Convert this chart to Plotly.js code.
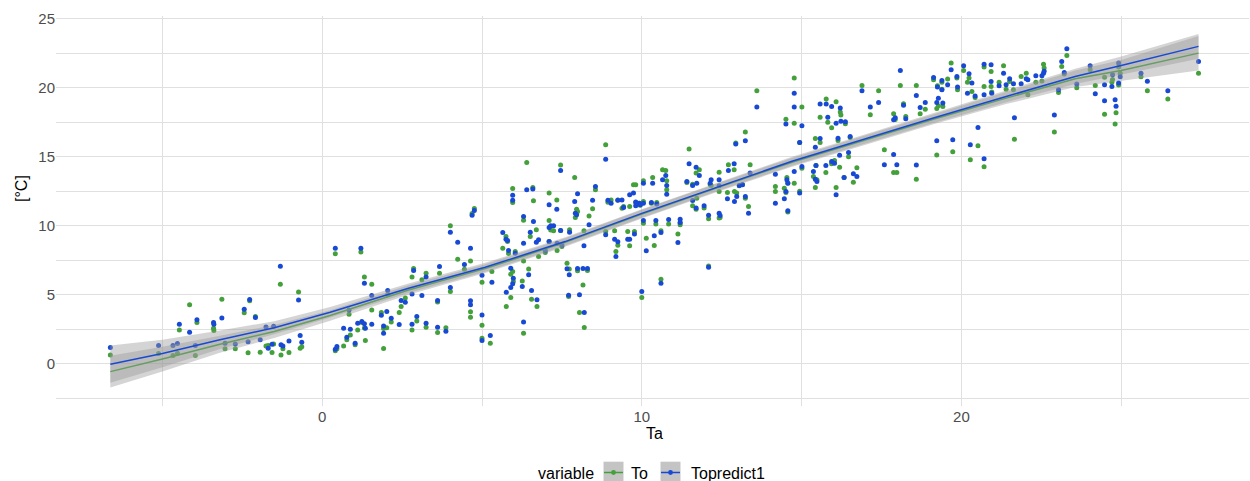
<!DOCTYPE html>
<html><head><meta charset="utf-8">
<script src="https://cdn.plot.ly/plotly-3.0.1.min.js"></script>
<style>html,body{margin:0;padding:0;background:#fff}#chart{width:1250px;height:481px}</style>
</head><body><div id="chart"></div>
<script>
// ---- observations: Ta, To (measured), Topredict1 (predicted) ----
const Ta = [
-6.63,-5.12,-4.67,-4.53,-4.47,-4.15,-3.97,-3.92,-3.40,-3.39,-3.14,-3.04,-2.72,-2.44,-2.32,-2.27,-2.09,-1.94,-1.76,-1.69,-1.57,-1.52,-1.31,-1.29,-1.23,-1.04,-0.74,-0.69,-0.64,
0.41,0.41,0.46,0.67,0.77,0.84,0.88,1.03,1.11,1.21,1.24,1.32,1.32,1.35,1.55,1.55,1.85,1.92,1.92,2.02,2.05,2.16,2.41,2.47,2.60,2.81,2.86,2.81,2.96,3.12,3.25,3.25,3.61,3.61,3.67,3.87,4.01,4.01,4.24,4.45,4.64,4.64,4.64,4.69,4.76,5.00,5.00,5.00,
5.26,5.31,5.65,5.75,5.80,5.76,5.83,5.90,5.96,5.90,5.98,5.96,5.96,6.04,6.30,6.30,6.26,6.30,6.40,6.46,6.51,6.55,6.59,6.61,6.70,6.77,6.72,6.98,7.10,7.10,7.15,7.24,7.10,7.34,7.35,7.46,7.46,7.50,7.66,7.73,7.71,7.74,7.90,7.92,7.96,7.99,7.99,8.05,8.16,8.20,8.19,8.30,8.35,8.46,8.55,8.87,8.87,8.94,9.04,9.15,9.19,9.25,9.25,9.38,9.43,9.56,9.62,9.62,9.74,9.81,9.77,9.81,9.92,9.95,10.00,
10.05,10.05,10.05,10.14,10.34,10.30,10.47,10.44,10.39,10.60,10.60,10.65,10.75,10.78,10.78,10.84,11.13,11.20,11.20,11.41,11.48,11.59,11.59,11.70,11.72,11.80,11.70,11.95,12.09,12.09,12.17,12.14,12.42,12.42,12.42,12.45,12.68,12.71,12.89,12.94,12.97,13.05,13.15,12.90,13.24,13.24,13.34,13.39,13.60,14.18,14.18,14.46,14.51,14.54,14.57,14.51,14.57,14.77,14.77,14.77,
14.94,15.01,14.94,15.01,15.37,15.43,15.43,15.48,15.45,15.58,15.58,15.76,15.77,15.82,15.94,15.94,16.03,16.08,16.08,16.14,16.19,16.21,16.23,16.33,16.37,16.47,16.52,16.62,16.73,16.89,17.15,17.41,17.59,17.88,17.98,17.88,17.93,18.09,18.19,18.26,18.59,18.59,18.71,18.87,19.13,
19.25,19.39,19.23,19.28,19.42,19.23,19.39,19.57,19.68,19.73,19.86,19.88,20.07,20.19,20.33,20.24,20.28,20.52,20.43,20.71,20.71,20.71,20.93,20.93,20.95,21.18,21.32,21.40,21.51,21.63,21.66,21.87,22.03,22.08,22.33,22.52,22.57,22.59,22.91,23.14,23.22,23.30,23.04,
23.61,24.03,24.19,24.48,24.48,24.71,24.73,24.97,24.92,24.81,24.84,24.92,25.62,25.82,26.46,27.42];
const To = [
0.65,0.75,0.60,0.77,2.45,4.28,0.60,2.99,2.58,2.41,4.69,1.09,1.09,3.70,0.80,4.57,3.43,0.85,1.30,1.33,0.82,1.45,5.77,0.65,1.10,0.82,5.20,1.13,1.25,
7.97,0.95,1.10,1.30,1.75,3.60,2.10,1.38,2.46,8.10,3.00,6.30,2.60,1.69,5.77,3.91,3.72,2.56,1.11,2.61,5.00,3.04,3.72,4.15,4.78,6.30,6.91,2.46,3.10,6.09,6.57,2.66,4.49,2.27,6.57,2.61,10.00,5.24,7.58,6.86,7.46,3.77,3.38,10.90,11.26,5.92,2.80,1.86,
1.50,6.69,8.38,9.23,8.86,4.15,8.00,6.50,6.69,4.81,5.97,12.71,11.69,8.14,7.46,2.22,6.01,10.40,14.59,6.88,9.23,4.69,12.78,11.81,9.71,7.78,4.15,8.07,12.37,10.39,9.70,9.64,8.86,11.88,8.21,14.40,9.66,8.50,7.29,6.88,4.88,9.71,13.50,10.60,11.21,11.04,6.74,3.72,5.72,2.63,9.64,6.76,10.72,11.23,12.61,15.87,9.59,11.70,11.88,9.64,8.14,8.60,11.88,11.28,11.40,9.59,8.55,11.40,12.97,12.97,9.59,11.69,11.64,11.50,4.81,
13.26,11.76,10.19,9.11,13.50,11.64,11.69,10.14,8.57,9.64,6.14,14.06,14.01,13.26,12.61,10.14,9.40,10.07,10.20,13.14,15.56,13.02,11.45,13.82,12.00,14.06,11.20,11.30,10.51,7.10,12.92,13.00,13.89,12.49,10.56,10.60,12.42,14.42,14.06,16.00,12.37,12.90,13.00,12.49,16.79,12.00,11.40,14.42,19.78,12.85,12.49,12.73,17.73,13.50,13.10,12.42,11.00,17.44,20.70,13.09,
12.50,18.60,16.04,14.18,13.57,16.33,12.78,13.33,14.37,17.87,16.04,13.86,19.18,17.50,17.10,14.50,14.73,12.78,18.99,16.18,14.25,18.24,18.02,13.50,17.40,15.00,16.40,13.16,14.20,20.17,18.04,19.78,15.51,13.86,13.86,18.12,17.70,20.17,18.84,17.92,20.17,13.38,18.12,18.45,20.58,
20.14,19.90,18.50,18.70,18.65,15.14,20.40,20.63,21.79,15.36,20.70,19.86,21.26,20.41,19.73,20.70,14.78,15.80,19.30,21.50,20.10,14.28,21.18,20.10,19.70,20.41,21.59,19.90,20.46,19.86,16.28,20.82,21.06,19.49,20.41,20.50,21.71,21.43,16.79,21.55,21.00,22.34,19.66,
20.00,21.30,20.17,20.77,18.09,20.41,20.60,21.06,21.50,17.37,18.20,20.20,20.80,19.78,19.18,21.06];
const Topredict1 = [
1.18,1.33,1.33,1.47,2.87,2.29,1.33,3.19,2.99,2.87,3.33,1.50,1.45,3.96,1.60,4.66,3.36,1.74,2.68,1.14,1.43,2.73,7.08,1.38,1.30,1.66,4.62,2.05,1.57,
8.38,1.06,1.26,2.59,1.93,3.90,2.51,1.50,2.95,8.38,3.07,5.85,2.90,2.58,4.95,2.87,3.53,2.75,2.22,3.79,5.31,3.31,2.85,4.59,4.47,5.07,6.76,2.87,3.43,4.95,6.30,2.95,4.59,2.66,7.05,2.37,9.54,5.53,8.82,7.20,8.38,4.57,4.28,10.77,11.11,6.43,3.55,1.69,
2.05,5.92,9.52,9.03,8.94,5.19,8.21,6.93,5.80,5.53,6.20,12.22,11.86,8.02,8.74,3.04,5.60,10.68,12.61,6.45,9.54,5.31,12.66,10.31,8.82,8.99,4.64,8.21,11.52,9.88,10.00,10.00,8.86,11.21,8.74,14.01,9.66,8.62,6.90,6.45,4.98,9.54,11.76,10.92,10.80,12.32,6.91,5.00,6.91,3.72,8.55,6.91,10.07,11.86,12.85,14.83,9.35,11.86,11.64,9.03,7.78,8.84,11.86,11.88,11.33,9.03,9.03,12.25,12.37,11.72,9.40,11.45,11.64,11.52,5.24,
13.09,11.64,10.39,8.19,13.09,11.69,11.59,10.39,9.28,9.52,5.85,13.33,13.65,12.92,12.29,10.46,8.79,10.48,10.24,13.21,14.49,12.92,11.84,14.25,13.09,13.65,11.30,11.45,10.77,7.00,13.33,13.09,13.33,12.90,10.92,10.75,11.96,14.01,14.49,15.92,12.13,12.92,12.97,11.76,16.16,12.13,10.92,13.82,18.60,13.74,11.64,11.96,17.37,13.33,13.09,12.49,11.09,18.60,19.61,13.94,
12.37,17.25,16.04,14.30,13.94,15.70,13.38,13.21,14.37,18.82,16.33,14.37,18.82,17.87,18.65,14.66,14.54,12.25,17.44,16.35,15.12,18.53,17.58,13.50,17.54,15.31,16.47,13.77,13.57,19.78,18.60,18.94,14.42,15.17,14.42,17.68,17.83,21.26,18.74,17.75,19.44,14.40,18.57,18.94,20.75,
20.05,19.86,18.94,19.25,18.90,16.16,20.53,20.22,21.30,16.23,20.82,20.05,21.59,19.61,20.34,21.01,15.87,17.13,19.40,21.71,19.49,14.86,21.67,20.46,19.61,20.14,21.06,20.22,20.65,20.29,17.83,20.29,20.65,20.58,20.87,20.87,21.06,21.20,18.02,21.91,21.11,22.83,19.86,
20.27,21.59,19.57,20.22,19.06,20.10,20.94,20.80,21.79,19.13,18.67,20.34,21.06,20.48,19.78,21.91];

// ---- smoothed fits and ribbon half-widths ----
const smoothTa = [-6.63,-5.0,-3.2,-1.5,0.25,2.7,5.1,7.6,10.0,12.4,14.7,16.9,19.1,21.4,23.56,25.0,27.42];
const fitTo    = [-0.56,0.35,1.42,2.35,3.50,5.35,6.90,8.80,10.85,12.80,14.60,16.15,17.70,19.25,20.65,21.26,22.51];
const fitTp    = [-0.02,0.75,1.75,2.62,3.74,5.48,7.00,8.86,10.90,12.85,14.68,16.23,17.80,19.37,20.82,21.62,23.00];
const halfTo   = [1.15,0.90,0.62,0.47,0.38,0.34,0.32,0.31,0.31,0.31,0.32,0.34,0.36,0.43,0.60,0.75,1.25];
const halfTp   = [1.35,1.00,0.67,0.47,0.38,0.34,0.32,0.31,0.31,0.31,0.32,0.34,0.36,0.41,0.55,0.65,0.90];

const seriesNames = ['To','Topredict1'];
const legendTitle = 'variable';
const xTitle = 'Ta';
const yTitle = '[°C]';

const GREEN = '#43a03a', BLUE = '#1849d4';
const FONT = 'Liberation Sans, Arial, sans-serif';

function ribbon(fit, half) {
  const up = fit.map((v,i)=>v+half[i]);
  const lo = fit.map((v,i)=>v-half[i]);
  return {
    x: smoothTa.concat(smoothTa.slice().reverse()),
    y: up.concat(lo.slice().reverse()),
    type:'scatter', mode:'lines', fill:'toself',
    fillcolor:'rgba(153,153,153,0.42)', line:{width:0}, hoverinfo:'skip', showlegend:false
  };
}

const traces = [
  {x:Ta, y:To, type:'scatter', mode:'markers', name:seriesNames[0], marker:{color:GREEN, size:5}, showlegend:false},
  {x:Ta, y:Topredict1, type:'scatter', mode:'markers', name:seriesNames[1], marker:{color:BLUE, size:5}, showlegend:false},
  ribbon(fitTo, halfTo),
  {x:smoothTa, y:fitTo, type:'scatter', mode:'lines', line:{color:GREEN, width:1.5}, showlegend:false},
  ribbon(fitTp, halfTp),
  {x:smoothTa, y:fitTp, type:'scatter', mode:'lines', line:{color:BLUE, width:1.5}, showlegend:false}
];

// pixel -> paper helpers for the hand-built legend and titles
const ML=56, MT=16, PW=1193, PH=390;
const PX = p => (p-ML)/PW;
const PY = p => (MT+PH-p)/PH;

const shapes = [];
const keyX = [603.5, 660.5];
const keyCol = [GREEN, BLUE];
keyX.forEach((x0,i)=>{
  shapes.push({type:'rect', xref:'paper', yref:'paper', x0:PX(x0), x1:PX(x0+20), y0:PY(485), y1:PY(461.7), fillcolor:'#c4c4c4', line:{width:0}, layer:'above'});
  shapes.push({type:'line', xref:'paper', yref:'paper', x0:PX(x0+0.5), x1:PX(x0+19.5), y0:PY(472.5), y1:PY(472.5), line:{color:keyCol[i], width:1.5}, layer:'above'});
  shapes.push({type:'circle', xref:'paper', yref:'paper', x0:PX(x0+10-2.4), x1:PX(x0+10+2.4), y0:PY(472.5+2.4), y1:PY(472.5-2.4), fillcolor:keyCol[i], line:{width:0}, layer:'above'});
});

const annotations = [
  {text:xTitle, xref:'paper', yref:'paper', x:PX(654), y:PY(433), xanchor:'center', yanchor:'middle', showarrow:false, font:{family:FONT, size:16, color:'#000'}},
  {text:yTitle, xref:'paper', yref:'paper', x:PX(21), y:PY(189), xanchor:'center', yanchor:'middle', textangle:-90, showarrow:false, font:{family:FONT, size:16, color:'#000'}},
  {text:legendTitle, xref:'paper', yref:'paper', x:PX(536), y:PY(473), xanchor:'left', yanchor:'middle', showarrow:false, font:{family:FONT, size:16, color:'#000'}},
  {text:seriesNames[0], xref:'paper', yref:'paper', x:PX(629), y:PY(473), xanchor:'left', yanchor:'middle', showarrow:false, font:{family:FONT, size:16, color:'#000'}},
  {text:seriesNames[1], xref:'paper', yref:'paper', x:PX(689), y:PY(473), xanchor:'left', yanchor:'middle', showarrow:false, font:{family:FONT, size:16, color:'#000'}}
];

const gridCol = '#e0e0e0';
const layout = {
  width:1250, height:481,
  margin:{l:ML, r:1250-ML-PW, t:MT, b:481-MT-PH, pad:0},
  paper_bgcolor:'#fff', plot_bgcolor:'#fff',
  showlegend:false,
  font:{family:FONT},
  xaxis:{range:[-8.33,29.0], tick0:0, dtick:10, ticks:'', showline:false, zeroline:false,
         showgrid:true, gridcolor:gridCol, gridwidth:1.1,
         minor:{tick0:0, dtick:5, showgrid:true, gridcolor:gridCol, gridwidth:1, ticks:''},
         tickfont:{family:FONT, size:15, color:'#4d4d4d'}},
  yaxis:{range:[-3.05,25.2], tick0:0, dtick:5, ticks:'', showline:false, zeroline:false,
         showgrid:true, gridcolor:gridCol, gridwidth:1.1,
         minor:{tick0:0, dtick:2.5, showgrid:true, gridcolor:gridCol, gridwidth:1, ticks:''},
         tickfont:{family:FONT, size:15, color:'#4d4d4d'}},
  shapes:shapes,
  annotations:annotations
};

Plotly.newPlot('chart', traces, layout, {displayModeBar:false, staticPlot:true});
</script>
</body></html>
